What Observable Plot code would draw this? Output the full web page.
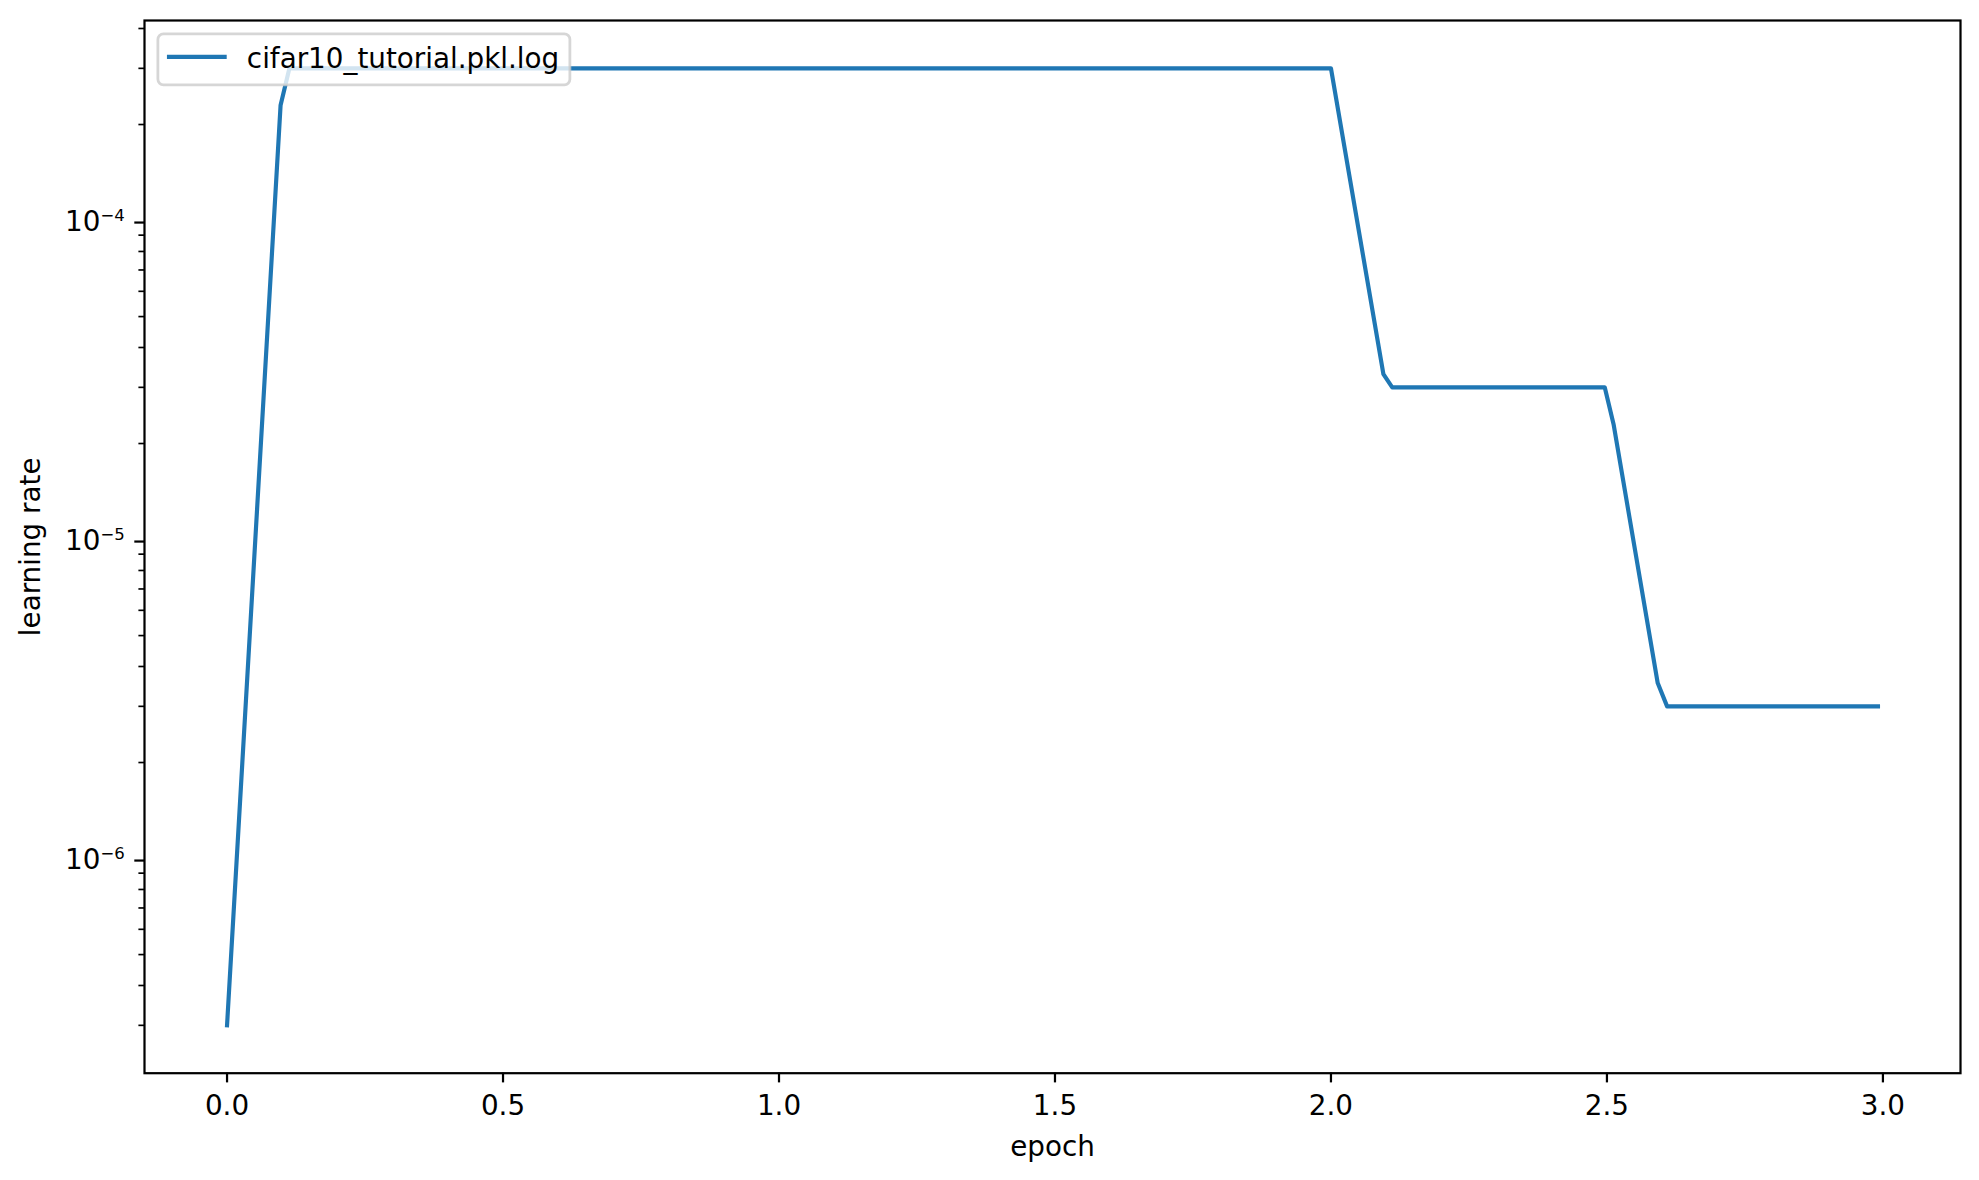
<!DOCTYPE html>
<html>
<head>
<meta charset="utf-8">
<script src="https://cdn.jsdelivr.net/npm/d3@7"></script>
<script src="https://cdn.jsdelivr.net/npm/@observablehq/plot@0.6"></script>
<style>
  html, body { margin: 0; padding: 0; background: #ffffff; }
  #chart svg { display: block; }
</style>
</head>
<body>
<div id="chart"></div>
<script>
// ---- data ----
const epoch = [0, 0.097, 0.113, 2.000, 2.095, 2.111, 2.496, 2.512, 2.592, 2.609, 2.991];
const learningRate = [3e-7, 2.3e-4, 3e-4, 3e-4, 3.3e-5, 3e-5, 3e-5, 2.3e-5, 3.55e-6, 3e-6, 3e-6];
const seriesName = "cifar10_tutorial.pkl.log";
const xTicks = [0, 0.5, 1.0, 1.5, 2.0, 2.5, 3.0];
const yTicks = [1e-6, 1e-5, 1e-4];
const yTickExponents = ["−6", "−5", "−4"];
const xLabel = "epoch";
const yLabel = "learning rate";

// ---- layout / style ----
const W = 1979, H = 1180;
const fs = 27.8;                 // 10pt at 200 dpi
const lw = 0.8 * 200 / 72;       // spine / major tick width
const color = "#1f77b4";

const rows = epoch.map((e, i) => ({epoch: e, lr: learningRate[i]}));

// matplotlib-like 5% margins
const xMin = d3.min(epoch), xMax = d3.max(epoch), xPad = 0.05 * (xMax - xMin);
const lMin = Math.log10(d3.min(learningRate)), lMax = Math.log10(d3.max(learningRate)), lPad = 0.05 * (lMax - lMin);
const xDomain = [xMin - xPad, xMax + xPad];
const yDomain = [Math.pow(10, lMin - lPad), Math.pow(10, lMax + lPad)];

// minor log ticks inside the domain
const minorTicks = [];
for (let k = -8; k <= -2; k++) for (let m = 2; m <= 9; m++) {
  const v = m * Math.pow(10, k);
  if (v >= yDomain[0] && v <= yDomain[1]) minorTicks.push(v);
}

function legendMark(index, scales, values, dims) {
  const g = d3.create("svg:g").attr("aria-label", "legend");
  const left = dims.marginLeft + 0.5 * fs;
  const top = dims.marginTop + 0.5 * fs;
  const bw = 412, bh = 51;
  g.append("rect")
    .attr("x", left).attr("y", top).attr("width", bw).attr("height", bh)
    .attr("rx", 0.2 * fs).attr("ry", 0.2 * fs)
    .attr("fill", "#ffffff").attr("fill-opacity", 0.8)
    .attr("stroke", "#cccccc").attr("stroke-opacity", 0.8)
    .attr("stroke-width", 1.0 * 200 / 72);
  const hx = left + 0.4 * fs;
  g.append("line")
    .attr("x1", hx).attr("x2", hx + 2 * fs)
    .attr("y1", top + 23).attr("y2", top + 23)
    .attr("stroke", color).attr("stroke-width", 1.5 * 200 / 72)
    .attr("stroke-linecap", "square");
  g.append("text")
    .attr("x", hx + 2.8 * fs).attr("y", top + 34.4)
    .attr("text-anchor", "start")
    .attr("font-size", fs).attr("fill", "#000")
    .text(seriesName);
  return g.node();
}

const chart = Plot.plot({
  width: W,
  height: H,
  marginLeft: 144,
  marginRight: 19,
  marginTop: 20,
  marginBottom: 107.3,
  style: {fontFamily: "'DejaVu Sans', sans-serif", fontSize: fs + "px", color: "#000", background: "#fff"},
  x: {domain: xDomain},
  y: {type: "log", domain: yDomain},
  marks: [
    Plot.line(rows, {x: "epoch", y: "lr", stroke: color, strokeWidth: 1.5 * 200 / 72,
      strokeLinejoin: "round", strokeLinecap: "square"}),
    Plot.frame({stroke: "#000", strokeWidth: lw}),
    Plot.axisX(xTicks, {tickSize: 9.7, tickPadding: 12, strokeWidth: lw, fontSize: fs,
      tickFormat: d3.format(".1f"), label: null}),
    Plot.axisY(minorTicks, {tickSize: 5.6, strokeWidth: 0.6 * 200 / 72, tickFormat: () => "", label: null}),
    Plot.axisY(yTicks, {tickSize: 9.7, tickPadding: 10, strokeWidth: lw, fontSize: fs, dy: 2,
      tickFormat: (d) => "10" + yTickExponents[yTicks.indexOf(d)], label: null}),
    Plot.text([xLabel], {frameAnchor: "bottom", text: (d) => d, dy: 73.4, fontSize: fs,
      lineAnchor: "middle", textAnchor: "middle", fill: "#000"}),
    Plot.text([yLabel], {frameAnchor: "left", text: (d) => d, dx: -113.4, rotate: -90, fontSize: fs,
      lineAnchor: "middle", textAnchor: "middle", fill: "#000"}),
    legendMark
  ]
});

// render the y tick labels as 10 with a real superscript exponent
d3.select(chart).selectAll("text").each(function () {
  const t = this.textContent;
  const m = /^10([−-]\d+)$/.exec(t);
  if (m) {
    const sel = d3.select(this);
    sel.text("");
    sel.append("tspan").text("10");
    sel.append("tspan").attr("font-size", "16.5px").attr("dy", -10.3).text(m[1]);
  }
});

document.getElementById("chart").appendChild(chart);
</script>
</body>
</html>
